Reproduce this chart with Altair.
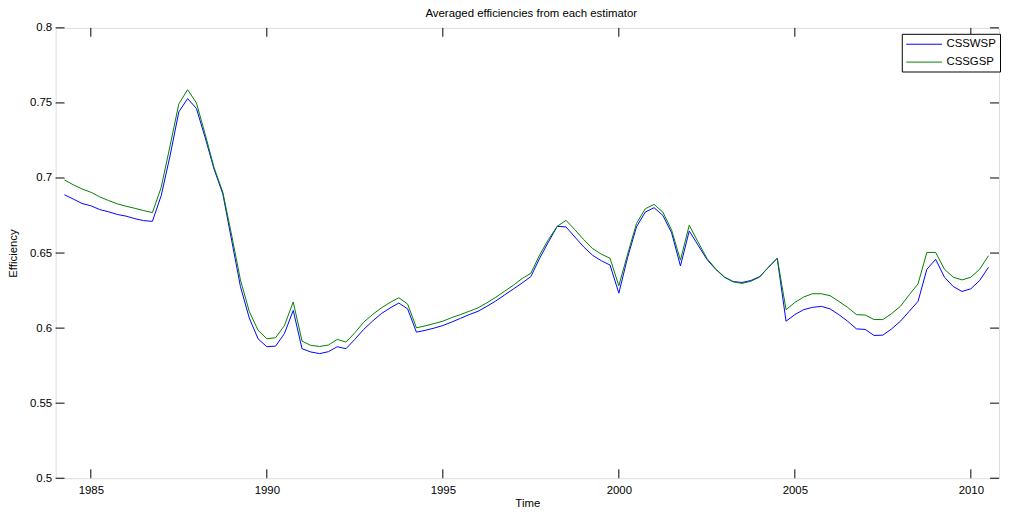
import altair as alt
import pandas as pd

# Quarterly averaged efficiencies (1984.25 .. 2010.5)
csswsp = [
    0.6888, 0.6860, 0.6830, 0.6815, 0.6790, 0.6775, 0.6757, 0.6746, 0.6729, 0.6716,
    0.6711, 0.6883, 0.7147, 0.7440, 0.7529, 0.7463, 0.7268, 0.7060, 0.6894, 0.6586,
    0.6277, 0.6068, 0.5929, 0.5876, 0.5880, 0.5964, 0.6118, 0.5863, 0.5841, 0.5830,
    0.5843, 0.5876, 0.5863, 0.5925, 0.5991, 0.6046, 0.6096, 0.6134, 0.6167, 0.6128,
    0.5973, 0.5985, 0.6000, 0.6017, 0.6040, 0.6065, 0.6090, 0.6112, 0.6145, 0.6180,
    0.6220, 0.6260, 0.6300, 0.6343, 0.6465, 0.6574, 0.6678, 0.6674, 0.6607, 0.6541,
    0.6486, 0.6449, 0.6420, 0.6233, 0.6471, 0.6674, 0.6773, 0.6802, 0.6751, 0.6634,
    0.6414, 0.6647, 0.6553, 0.6458, 0.6392, 0.6339, 0.6310, 0.6304, 0.6317, 0.6343,
    0.6405, 0.6465, 0.6046, 0.6090, 0.6123, 0.6138, 0.6145, 0.6128, 0.6090, 0.6046,
    0.5995, 0.5991, 0.5951, 0.5953, 0.5995, 0.6046, 0.6112, 0.6178, 0.6392, 0.6458,
    0.6339, 0.6277, 0.6244, 0.6262, 0.6317, 0.6405,
]
cssgsp = [
    0.6987, 0.6955, 0.6927, 0.6905, 0.6875, 0.6850, 0.6828, 0.6812, 0.6798, 0.6783,
    0.6769, 0.6938, 0.7213, 0.7493, 0.7588, 0.7500, 0.7290, 0.7070, 0.6905, 0.6620,
    0.6321, 0.6112, 0.5986, 0.5929, 0.5936, 0.6017, 0.6174, 0.5913, 0.5885, 0.5878,
    0.5887, 0.5925, 0.5907, 0.5969, 0.6039, 0.6090, 0.6134, 0.6171, 0.6202, 0.6160,
    0.6002, 0.6015, 0.6030, 0.6046, 0.6070, 0.6090, 0.6112, 0.6135, 0.6168, 0.6205,
    0.6245, 0.6285, 0.6330, 0.6365, 0.6487, 0.6590, 0.6678, 0.6718, 0.6656, 0.6590,
    0.6531, 0.6493, 0.6465, 0.6282, 0.6493, 0.6696, 0.6795, 0.6824, 0.6773, 0.6652,
    0.6453, 0.6685, 0.6574, 0.6465, 0.6395, 0.6340, 0.6308, 0.6298, 0.6312, 0.6340,
    0.6405, 0.6465, 0.6123, 0.6171, 0.6207, 0.6229, 0.6229, 0.6216, 0.6178, 0.6138,
    0.6090, 0.6087, 0.6057, 0.6057, 0.6097, 0.6145, 0.6222, 0.6295, 0.6504, 0.6504,
    0.6392, 0.6339, 0.6321, 0.6339, 0.6392, 0.6482,
]
time = [1984.25 + 0.25 * i for i in range(len(csswsp))]

series_names = ["CSSWSP", "CSSGSP"]
series_colors = ["#0000FF", "#008000"]
x_ticks = [1985, 1990, 1995, 2000, 2005, 2010]
y_ticks = [0.5, 0.55, 0.6, 0.65, 0.7, 0.75, 0.8]
x_domain = [1984, 2010.8]
y_domain = [0.5, 0.8]

W, H = 951, 454
FONT = "Liberation Sans"
FS = 11.5

df = pd.concat([
    pd.DataFrame({"Time": time, "Efficiency": csswsp, "Series": "CSSWSP", "order": 0}),
    pd.DataFrame({"Time": time, "Efficiency": cssgsp, "Series": "CSSGSP", "order": 1}),
])

xscale = alt.Scale(domain=x_domain, nice=False, zero=False)
yscale = alt.Scale(domain=y_domain, nice=False, zero=False)

lines = alt.Chart(df).mark_line(strokeWidth=1, clip=True).encode(
    x=alt.X("Time:Q", scale=xscale,
            axis=alt.Axis(values=x_ticks, format="d", ticks=False, domain=False, grid=False,
                          labelFont=FONT, labelFontSize=FS, labelColor="black",
                          labelPadding=6, title="Time", titleFont=FONT, titleFontSize=FS,
                          titleFontWeight="normal", titleColor="black",
                          titleY=26, titleBaseline="middle")),
    y=alt.Y("Efficiency:Q", scale=yscale,
            axis=alt.Axis(values=y_ticks, format=".2~f", ticks=False, domain=False, grid=False,
                          labelFont=FONT, labelFontSize=FS, labelColor="black",
                          labelPadding=4, title="Efficiency", titleFont=FONT, titleFontSize=FS,
                          titleFontWeight="normal", titleColor="black",
                          titleX=-42, titleY=H / 2, titleBaseline="middle", titleAngle=270)),
    color=alt.Color("Series:N",
                    scale=alt.Scale(domain=series_names, range=series_colors),
                    legend=alt.Legend(title=None, orient="none", legendX=853, legendY=6,
                                      strokeColor="black", fillColor="white", padding=4,
                                      symbolType="M-3,0H3", symbolSize=144,
                                      symbolStrokeWidth=1, symbolFillColor="transparent",
                                      symbolOffset=12,
                                      labelFont=FONT, labelFontSize=FS, labelColor="black",
                                      labelOffset=16, rowPadding=6, cornerRadius=0)),
    detail="order:O",
)

xt = pd.DataFrame({"t": x_ticks})
yt = pd.DataFrame({"v": y_ticks})
TL = 9

x_bottom = alt.Chart(xt).mark_rule(color="black", strokeWidth=1).encode(
    x=alt.X("t:Q", scale=xscale), y=alt.value(H - TL), y2=alt.value(H))
x_top = alt.Chart(xt).mark_rule(color="black", strokeWidth=1).encode(
    x=alt.X("t:Q", scale=xscale), y=alt.value(0), y2=alt.value(TL))
y_left = alt.Chart(yt).mark_rule(color="black", strokeWidth=1).encode(
    y=alt.Y("v:Q", scale=yscale), x=alt.value(0), x2=alt.value(TL))
y_right = alt.Chart(yt).mark_rule(color="black", strokeWidth=1).encode(
    y=alt.Y("v:Q", scale=yscale), x=alt.value(W - TL), x2=alt.value(W))

chart = alt.layer(lines, x_bottom, x_top, y_left, y_right).properties(
    width=W, height=H,
    title=alt.TitleParams("Averaged efficiencies from each estimator", font=FONT,
                          fontSize=FS, fontWeight="normal", color="black",
                          anchor="middle", offset=2, dx=4),
    autosize=alt.AutoSizeParams(type="none"),
    padding={"left": 48, "top": 18, "right": 2, "bottom": 30},
).configure_view(stroke="black", strokeWidth=1).configure(background="white")

chart.save("out.html", embed_options={"renderer": "svg", "actions": False})
